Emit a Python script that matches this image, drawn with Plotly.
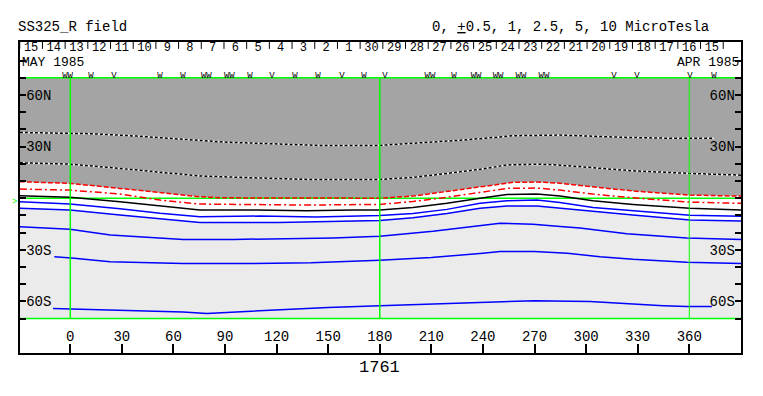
import plotly.graph_objects as go

FONT = "Liberation Mono"
X_RANGE = [-29.25, 390.1]
Y_RANGE = [-90, 90.8]

# ---- contour lines (longitude deg, latitude deg) ----
l1_lon = [-29.3, 11.5, 38.8, 75.4, 91.1, 110.3, 127.8, 143.5, 180.1, 209.2, 228.4, 244.1, 257.5, 284.8, 294.7, 321.4, 350.5, 374.3]
l1_lat = [38.2, 37.5, 36.1, 33.5, 32.5, 31.9, 31.3, 30.7, 30.7, 32.5, 33.8, 35.1, 36.3, 36.7, 36.3, 35.4, 34.8, 34.8]

l2_lon = [-29.3, -0.2, 28.9, 52.2, 75.4, 98.7, 121.9, 137.6, 180.1, 199.3, 219.1, 238.3, 254.0, 272.0, 285.0, 304.0, 327.2, 360.4, 390.1]
l2_lat = [20.6, 19.8, 17.3, 15.0, 12.9, 12.1, 11.5, 10.9, 10.9, 12.1, 14.4, 16.8, 19.3, 19.8, 19.2, 17.7, 15.9, 14.4, 13.4]

l3_lon = [-29.3, -0.2, 28.9, 58.0, 75.4, 90.0, 120.0, 150.0, 180.1, 199.3, 219.1, 238.3, 257.5, 271.4, 284.8, 304.0, 327.2, 360.4, 390.1]
l3_lat = [9.6, 8.6, 5.7, 2.4, 0.8, 0.2, 0.1, -0.3, 0.0, 1.2, 3.9, 6.6, 9.2, 9.4, 8.7, 6.6, 4.2, 1.8, 1.2]

l4_lon = [-29.3, -0.2, 28.9, 52.2, 75.4, 98.7, 137.6, 180.1, 199.3, 219.1, 238.3, 254.0, 271.4, 284.8, 304.0, 327.2, 360.4, 390.1]
l4_lat = [5.3, 4.7, 2.4, -1.1, -3.4, -3.6, -4.0, -3.6, -1.9, 0.5, 3.2, 5.7, 5.9, 4.7, 2.4, 0.2, -2.3, -3.0]

l5_lon = [-29.3, -0.2, 28.9, 52.2, 75.4, 108.0, 137.6, 164.0, 180.1, 199.3, 219.1, 238.3, 254.0, 271.4, 284.8, 304.0, 327.2, 360.4, 390.1]
l5_lat = [1.4, 0.5, -2.1, -4.6, -6.9, -6.9, -7.3, -6.9, -6.9, -5.4, -3.0, -0.1, 2.2, 2.4, 1.2, -1.5, -3.6, -5.9, -6.9]

l6_lon = [-29.3, -0.2, 28.9, 52.2, 75.4, 110.0, 143.0, 180.1, 199.3, 219.1, 238.3, 254.0, 271.4, 284.8, 304.0, 327.2, 360.4, 390.1]
l6_lat = [-2.1, -3.4, -6.2, -8.8, -10.8, -10.4, -11.0, -10.0, -8.9, -6.5, -3.0, -1.5, -1.1, -2.5, -5.4, -7.4, -9.9, -10.5]

l7_lon = [-29.3, -0.2, 28.9, 52.2, 75.4, 121.0, 164.0, 180.1, 199.3, 219.1, 238.3, 254.0, 271.4, 284.8, 304.0, 327.2, 360.4, 390.1]
l7_lat = [-5.9, -6.9, -9.8, -12.2, -14.2, -14.2, -13.3, -12.9, -11.4, -8.9, -5.9, -4.6, -4.6, -5.9, -7.9, -9.8, -12.7, -13.3]

l8_lon = [-29.3, -0.2, 23.3, 46.5, 65.7, 95.0, 152.9, 180.1, 210.9, 250.0, 269.1, 285.0, 296.4, 323.7, 358.6, 390.1]
l8_lat = [-16.6, -18.1, -21.4, -22.7, -24.0, -24.0, -23.1, -22.1, -19.2, -14.6, -15.2, -16.4, -17.4, -20.7, -23.2, -24.0]

l9_lon = [-9.3, 0.8, 23.1, 46.3, 65.5, 104.5, 140.0, 180.0, 210.0, 240.0, 250.0, 269.9, 289.1, 308.1, 327.3, 358.6, 390.1]
l9_lat = [-34.1, -34.7, -37.0, -37.6, -38.0, -38.0, -37.6, -36.1, -34.5, -32.0, -31.0, -31.0, -32.0, -34.0, -35.5, -37.2, -38.0]

l10_lon = [-10.1, 15.4, 40.5, 65.5, 79.5, 94.6, 104.5, 150.0, 180.0, 210.0, 240.0, 269.9, 302.3, 318.0, 331.3, 344.9, 358.6, 373.2]
l10_lat = [-64.1, -64.7, -65.5, -66.1, -67.0, -66.2, -65.6, -63.5, -62.5, -61.5, -60.3, -59.6, -60.1, -61.1, -61.9, -62.5, -63.0, -63.0]

# ---- header: day labels, daily event markers ----
day_labels = ["15", "14", "13", "12", "11", "10", "9", "8", "7", "6", "5", "4", "3", "2", "1",
              "30", "29", "28", "27", "26", "25", "24", "23", "22", "21", "20", "19", "18", "17", "16", "15"]
first_day_lon = -22.8
deg_per_day = 360 / 27.2753

marker_lons = [-1.6, 12.0, 25.4, 52.2, 65.5, 79.1, 92.5, 104.5, 117.3, 130.7, 144.1,
               158.0, 170.8, 183.0, 209.2, 223.2, 236.0, 248.8, 262.1, 275.5, 316.2, 329.6, 360.4, 374.3]
marker_syms = ["WW", "W", "V", "W", "W", "WW", "WW", "W", "V", "W", "W",
               "V", "W", "V", "WW", "W", "WW", "WW", "WW", "WW", "V", "V", "V", "W"]

lat_ticks = list(range(-80, 81, 10))
lat_names = {-60: "60S", -30: "30S", 30: "30N", 60: "60N"}
lon_ticks = list(range(0, 361, 30))
green_lats = [70, 0, -70]
green_lons = [0, 180, 360]

DARK = "#a4a4a4"
LIGHT = "#ebebeb"
GREEN = "#00ff00"
RED = "#ff0000"
BLUE = "#0000ff"

fig = go.Figure()


def add(x, y, **kw):
    kw.setdefault("mode", "lines")
    fig.add_trace(go.Scatter(x=x, y=y, hoverinfo="skip", showlegend=False, **kw))


# backgrounds
add([X_RANGE[0]] + l3_lon + [X_RANGE[1], X_RANGE[1], X_RANGE[0]],
    [l3_lat[0]] + l3_lat + [l3_lat[-1], green_lats[0], green_lats[0]],
    fill="toself", fillcolor=DARK, line=dict(width=0))
add([X_RANGE[0]] + l7_lon + [X_RANGE[1], X_RANGE[1], X_RANGE[0]],
    [l7_lat[0]] + l7_lat + [l7_lat[-1], green_lats[-1], green_lats[-1]],
    fill="toself", fillcolor=LIGHT, line=dict(width=0))

# horizontal green lines
for la in green_lats:
    add(X_RANGE, [la, la], line=dict(color=GREEN, width=1.5))

# dotted (black/white) contours
for lo, la in [(l1_lon, l1_lat), (l2_lon, l2_lat)]:
    add(lo, la, line=dict(color="white", width=1.5))
    add(lo, la, line=dict(color="black", width=1.5, dash="3px,2px"))

add(l3_lon, l3_lat, line=dict(color=RED, width=1.5, dash="5px,2px"))
add(l4_lon, l4_lat, line=dict(color=RED, width=1.5, dash="7px,3px,2px,3px"))
add(l5_lon, l5_lat, line=dict(color="black", width=1.5))
for lo, la in [(l6_lon, l6_lat), (l7_lon, l7_lat), (l8_lon, l8_lat), (l9_lon, l9_lat), (l10_lon, l10_lat)]:
    add(lo, la, line=dict(color=BLUE, width=1.5))

# vertical green lines
for i, lo in enumerate(green_lons):
    add([lo, lo], [green_lats[-1], green_lats[0]], line=dict(color=GREEN, width=1.5 if i < 2 else 1))

# day header
centers = [first_day_lon + i * deg_per_day for i in range(len(day_labels))]
tx, ty = [], []
for i in range(len(day_labels) + 1):
    b = first_day_lon + (i - 0.5) * deg_per_day
    tx += [b, b, None]
    ty += [Y_RANGE[1], 86.8, None]
add(tx, ty, line=dict(color="black", width=1))
add(centers, [87.3] * len(centers), mode="text", text=day_labels,
    textfont=dict(family=FONT, size=12, color="black"), textposition="middle center")
add(marker_lons, [71.2] * len(marker_lons), mode="text", text=marker_syms,
    textfont=dict(family=FONT, size=9, color="black"), textposition="middle center")

# dummy trace for right axis
add([X_RANGE[0]], [0], yaxis="y2", mode="markers", marker=dict(opacity=0))

axis_common = dict(showgrid=False, zeroline=False, showline=True, linecolor="black", linewidth=2,
                   ticks="inside", tickcolor="black", tickwidth=1.5,
                   tickfont=dict(family=FONT, size=14, color="black"), ticklabelposition="inside")

fig.update_layout(
    width=763, height=396,
    margin=dict(l=20, r=22, t=42, b=43),
    paper_bgcolor="white", plot_bgcolor="white",
    showlegend=False,
    xaxis=dict(range=X_RANGE, tickvals=lon_ticks, ticklen=9, mirror=True, **axis_common),
    yaxis=dict(range=Y_RANGE, tickvals=lat_ticks, ticktext=[lat_names.get(v, "") for v in lat_ticks],
               ticklen=6, mirror=True, **axis_common),
    yaxis2=dict(range=Y_RANGE, tickvals=lat_ticks, ticktext=[lat_names.get(v, "") for v in lat_ticks],
                ticklen=6, overlaying="y", side="right", **axis_common),
    annotations=[
        dict(text="SS325_R field", xref="paper", yref="paper", x=0, y=1, xanchor="left", yanchor="middle",
             xshift=-4, yshift=15, showarrow=False, font=dict(family=FONT, size=14, color="black")),
        dict(text="0, <u>+</u>0.5, 1, 2.5, 5, 10 MicroTesla", xref="paper", yref="paper",
             x=(711 - 20) / 721, y=1, xanchor="right", yanchor="middle", yshift=15, showarrow=False,
             font=dict(family=FONT, size=14, color="black")),
        dict(text="MAY 1985", xref="paper", yref="y", x=0, y=78.7, xanchor="left", yanchor="middle",
             showarrow=False, font=dict(family=FONT, size=13, color="black")),
        dict(text="APR 1985", xref="paper", yref="y", x=1, y=78.7, xanchor="right", yanchor="middle",
             showarrow=False, font=dict(family=FONT, size=13, color="black")),
        dict(text="1761", xref="x", yref="paper", x=180, y=0, xanchor="center", yanchor="top", yshift=-3,
             showarrow=False, font=dict(family=FONT, size=17, color="black")),
        dict(text="&gt;", xref="paper", yref="y", x=0, y=-2.5, xanchor="right", yanchor="middle", xshift=-1,
             showarrow=False, font=dict(family=FONT, size=9, color=GREEN)),
    ],
)

fig.write_html("out.html", config={"displayModeBar": False},
               post_script="document.body.style.margin='0';")
